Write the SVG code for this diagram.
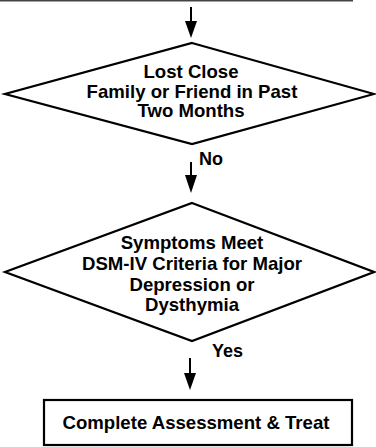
<svg xmlns="http://www.w3.org/2000/svg" width="376" height="447" viewBox="0 0 376 447">
<style>
.shape{fill:#fff;stroke:#000;stroke-width:2.2}
.conn{stroke:#000;stroke-width:2;fill:none}
.t{font-family:"Liberation Sans",Arial,sans-serif;font-weight:bold;font-size:18.6px;fill:#000;text-anchor:middle}
.l{font-family:"Liberation Sans",Arial,sans-serif;font-weight:bold;font-size:18px;fill:#000}
</style>
<line x1="0" y1="0.5" x2="353" y2="0.5" stroke="#444" stroke-width="2"/>
<g id="connectors">
<line class="conn" x1="191" y1="7" x2="191" y2="22"/>
<path d="M185,21 L197,21 L191,38 Z" fill="#000"/>
<line class="conn" x1="191" y1="162" x2="191" y2="177"/>
<path d="M185,175 L197,175 L191,193 Z" fill="#000"/>
<line class="conn" x1="190" y1="358" x2="190" y2="374"/>
<path d="M184,373 L196,373 L190,390 Z" fill="#000"/>
<text class="l" x="199" y="165">No</text>
<text class="l" x="212" y="357">Yes</text>
</g>
<g id="decision1">
<polygon class="shape" points="192,43 374,94 192,144 5,94"/>
<text class="t" x="191" y="78">Lost Close</text>
<text class="t" x="192" y="98">Family or Friend in Past</text>
<text class="t" x="191" y="117">Two Months</text>
</g>
<g id="decision2">
<polygon class="shape" points="192,203 374,272 192,341 5,272"/>
<text class="t" x="192" y="249">Symptoms Meet</text>
<text class="t" x="192" y="270">DSM-IV Criteria for Major</text>
<text class="t" x="192" y="290.5">Depression or</text>
<text class="t" x="192" y="311">Dysthymia</text>
</g>
<g id="process1">
<rect class="shape" x="44" y="400" width="308" height="45"/>
<text class="t" x="196" y="429">Complete Assessment &amp; Treat</text>
</g>
</svg>
